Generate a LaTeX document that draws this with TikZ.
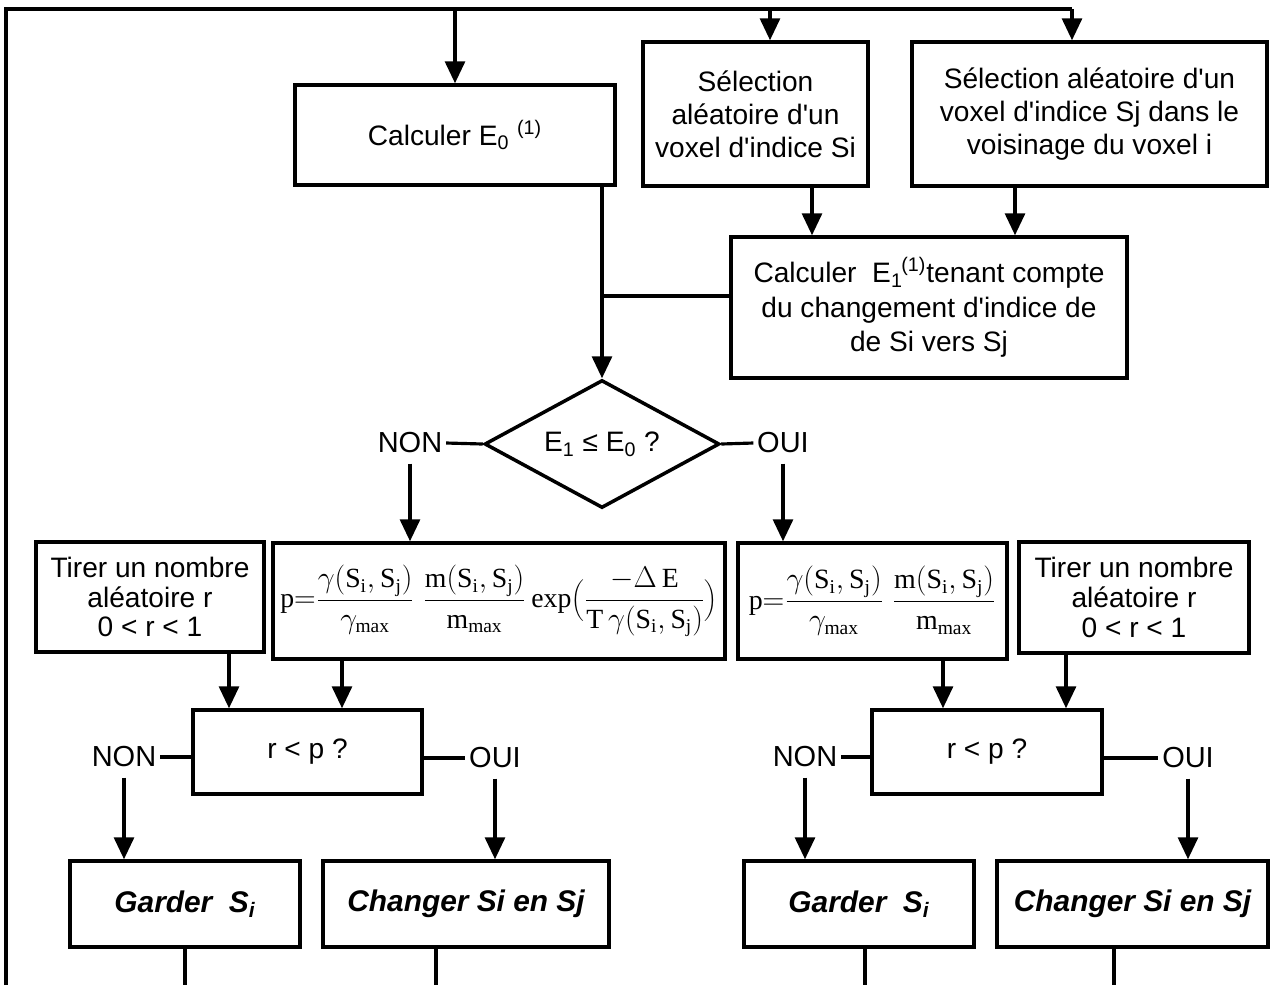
\documentclass[tikz,border=0pt]{standalone}
\usepackage{graphicx}
\usepackage{fontspec}
\setmainfont{Liberation Sans}
\setmathrm{Liberation Serif}
\usetikzlibrary{arrows.meta,shapes.geometric,calc}
\newcommand{\apos}{\textquotesingle}
\begin{document}
\begin{tikzpicture}[x=0.02cm,y=-0.02cm,
  every node/.style={font=\fontsize{16}{18}\selectfont},
  box/.style={draw,line width=2pt,align=center,inner sep=0pt,
    font=\fontsize{16}{18}\selectfont},
  decision/.style={draw,diamond,line width=2pt,inner sep=0pt,aspect=1.8,
    minimum width=4.7cm,minimum height=2.56cm},
  lbl/.style={inner xsep=0.07cm,inner ysep=0.2cm,font=\fontsize{16.5}{18}\selectfont},
  ln/.style={line width=1.8pt},
  arr/.style={line width=1.8pt,-{Triangle[length=0.44cm,width=0.4cm]}},
  res/.style={box,font=\fontsize{17}{19}\selectfont\bfseries\itshape}
]
\useasboundingbox (0,0) rectangle (1270,985);

% frame coordinates
\coordinate (tl) at (6,9);
\coordinate (tr) at (1072,9);
\coordinate (bl) at (6,985);

% top row
\node[box,minimum width=6.4cm,minimum height=2.0cm] (e0) at (455,135)
  {Calculer E\textsubscript{0} \textsuperscript{(1)}};
\node[box,minimum width=4.5cm,minimum height=2.88cm,
  font=\fontsize{16}{18.7}\selectfont] (sel) at (755.5,114)
  {Sélection\\aléatoire d\apos un\\voxel d\apos indice Si};
\node[box,minimum width=7.1cm,minimum height=2.88cm,
  font=\fontsize{16}{18.7}\selectfont] (vois) at (1089.5,114)
  {Sélection aléatoire d\apos un\\voxel d\apos indice Sj dans le\\voisinage du voxel i};
\node[box,minimum width=7.92cm,minimum height=2.82cm,
  font=\fontsize{16}{19.5}\selectfont] (e1) at (929,307.5)
  {Calculer\ \ E\textsubscript{1}\kern-0.05em\textsuperscript{(1)}tenant compte\\du changement d\apos indice de\\de Si vers Sj};

% decision
\node[decision] (dia) at (602,444) {E\textsubscript{1} ≤ E\textsubscript{0} ?};
\node[lbl] (non0) at (410,443) {NON};
\node[lbl] (oui0) at (783,443) {OUI};

% second row
\node[box,minimum width=4.56cm,minimum height=2.2cm,
  font=\fontsize{16}{17}\selectfont] (tirL) at (150,597)
  {Tirer un nombre\\aléatoire r\\0 < r < 1};
\node[box,minimum width=9.04cm,minimum height=2.32cm] (formL) at (499,601)
  {\resizebox{8.75cm}{!}{$\displaystyle \mathrm{p}{=}\frac{\gamma(\mathrm{S_i,S_j})}{\gamma_{\mathrm{max}}}\;\frac{\mathrm{m(S_i,S_j)}}{\mathrm{m_{max}}}\,\mathrm{exp}\Biggl(\frac{-\Delta\,\mathrm{E}}{\mathrm{T}\,\gamma(\mathrm{S_i,S_j})}\Biggr)$}};
\node[box,minimum width=5.38cm,minimum height=2.32cm] (formR) at (872.5,601)
  {\resizebox{4.95cm}{!}{$\displaystyle \mathrm{p}{=}\frac{\gamma(\mathrm{S_i,S_j})}{\gamma_{\mathrm{max}}}\;\frac{\mathrm{m(S_i,S_j)}}{\mathrm{m_{max}}}$}};
\node[box,minimum width=4.6cm,minimum height=2.22cm,
  font=\fontsize{16}{17}\selectfont] (tirR) at (1134,597.5)
  {Tirer un nombre\\aléatoire r\\0 < r < 1};

% third row
\node[box,minimum width=4.58cm,minimum height=1.68cm] (rpL) at (307.5,752) {r < p ?};
\node[box,minimum width=4.6cm,minimum height=1.68cm] (rpR) at (987,752) {r < p ?};
\node[lbl] (nonL) at (124,757) {NON};
\node[lbl] (ouiL) at (495,758) {OUI};
\node[lbl] (nonR) at (805,757) {NON};
\node[lbl] (ouiR) at (1188,758) {OUI};

% bottom row
\node[res,minimum width=4.6cm,minimum height=1.72cm] (garL) at (185,904)
  {Garder\ \ S\textsubscript{i}};
\node[res,minimum width=5.72cm,minimum height=1.72cm] (chL) at (466,904)
  {Changer Si en Sj};
\node[res,minimum width=4.6cm,minimum height=1.72cm] (garR) at (859,904)
  {Garder\ \ S\textsubscript{i}};
\node[res,minimum width=5.42cm,minimum height=1.72cm] (chR) at (1132.5,904)
  {Changer Si en Sj};

% helper coordinates on box borders
\coordinate (selin) at ($(sel.north)+(14.5,0)$);
\coordinate (e1a) at ($(e1.north)+(-117,0)$);
\coordinate (e1b) at ($(e1.north)+(86,0)$);
\coordinate (j1) at ($(e1.west)+(0,-11.5)$);
\coordinate (tirLo) at ($(tirL.south)+(79,0)$);
\coordinate (formLo) at ($(formL.south)+(-157,0)$);
\coordinate (formRo) at ($(formR.south)+(70.5,0)$);
\coordinate (tirRo) at ($(tirR.south)+(-68,0)$);
\coordinate (chLo) at ($(chL.south)+(-30,0)$);
\coordinate (garRo) at ($(garR.south)+(6,0)$);
\coordinate (chRo) at ($(chR.south)+(-18.5,0)$);

% frame loop
\draw[ln,line width=2pt] (bl) -- (tl) -- (tr);
\draw[arr] (tl -| e0.north) -- (e0.north);
\draw[arr] (tl -| selin) -- (selin);
\draw[arr] (tr) -- (tr |- vois.north);

% to E1
\draw[arr] (sel.south -| e1a) -- (e1a);
\draw[arr] (vois.south -| e1b) -- (e1b);

% to decision
\draw[arr] (e0.south -| dia.north) -- (dia.north);
\draw[ln] (j1) -- (j1 -| dia.north);

% decision branches
\draw[ln] (non0.east) -- (dia.west);
\draw[ln] (dia.east) -- (oui0.west);
\draw[arr] (non0.south) -- (non0.south |- formL.north);
\draw[arr] (oui0.south) -- (oui0.south |- formR.north);

% to r<p
\draw[arr] (tirLo) -- (tirLo |- rpL.north);
\draw[arr] (formLo) -- (formLo |- rpL.north);
\draw[arr] (formRo) -- (formRo |- rpR.north);
\draw[arr] (tirRo) -- (tirRo |- rpR.north);

% r<p branches
\draw[ln] (nonL.east) -- (nonL.east -| rpL.west);
\draw[ln] (ouiL.west -| rpL.east) -- (ouiL.west);
\draw[ln] (nonR.east) -- (nonR.east -| rpR.west);
\draw[ln] (ouiR.west -| rpR.east) -- (ouiR.west);
\draw[arr] (nonL.south) -- (nonL.south |- garL.north);
\draw[arr] (ouiL.south) -- (ouiL.south |- chL.north);
\draw[arr] (nonR.south) -- (nonR.south |- garR.north);
\draw[arr] (ouiR.south) -- (ouiR.south |- chR.north);

% outputs back to loop
\draw[ln] (garL.south) -- (garL.south |- bl);
\draw[ln] (chLo) -- (chLo |- bl);
\draw[ln] (garRo) -- (garRo |- bl);
\draw[ln] (chRo) -- (chRo |- bl);
\end{tikzpicture}
\end{document}
